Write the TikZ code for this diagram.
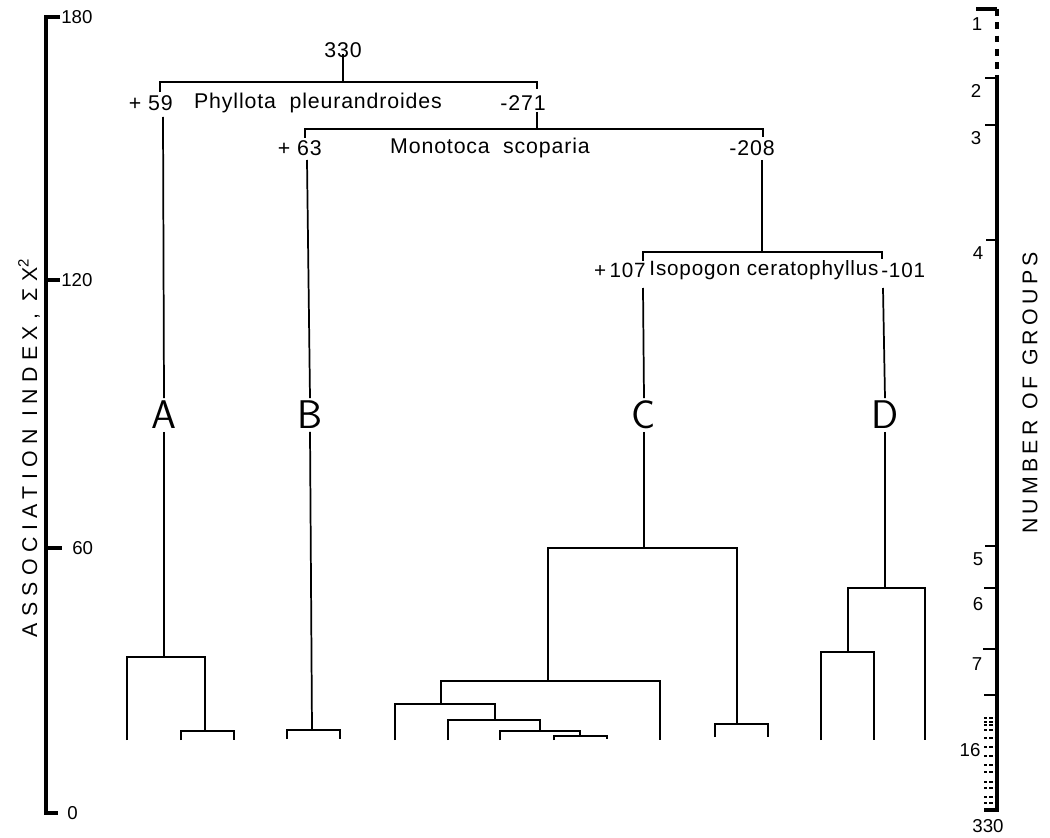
\documentclass[tikz,border=0pt]{standalone}
\usepackage{fontspec}
\setmainfont{Liberation Sans}
\newfontfamily\handfont[LetterSpace=4]{Liberation Sans}
\newfontfamily\ytitlefont[LetterSpace=30]{Liberation Sans}
\newfontfamily\rtitlefont[LetterSpace=20]{Liberation Sans}
\begin{document}
\begin{tikzpicture}[x=0.75pt,y=-0.75pt,
  axis/.style={line width=3.2pt},
  hbar/.style={line width=2.1pt},
  stem/.style={line width=1.3pt},
  lab/.style={font=\handfont\fontsize{16}{16}\selectfont, inner sep=0pt},
  labs/.style={font=\handfont\fontsize{15.5}{15.5}\selectfont, inner sep=0pt},
  num/.style={font=\fontsize{14}{14}\selectfont, inner sep=0pt},
  letter/.style={font=\sffamily\fontsize{30}{30}\selectfont, inner sep=2pt},
  title/.style={inner sep=0pt, rotate=90}]
\useasboundingbox (0,0) rectangle (1050,838);
% ---------- left axis ----------
\draw[axis] (60,17) -- (46,17) -- (46,813) -- (58,813);
\draw[axis] (46,280) -- (60,280);
\draw[axis] (46,548) -- (62,548);
\node[num,anchor=west] (l180) at (61,17) {180};
\node[num,anchor=west] (l120) at (61,280) {120};
\node[num,anchor=west] (l60) at (72,548) {60};
\node[num,anchor=west] (l0) at (67,813) {0};
\node[title,font=\ytitlefont\fontsize{16}{16}\selectfont] (ytitle) at (29,448) {ASSOCIATION INDEX, ΣX\textsuperscript{2}};
% ---------- right axis ----------
\draw[axis, dash pattern=on 5pt off 5pt] (997,9) -- (997,75);
\draw[axis] (976,9) -- (997,9);
\draw[axis] (997,75) -- (997,810) -- (984,810);
\foreach \y/\xa in {78/985,125/985,240/986,546/985,588/984,649/983,695/984}
  \draw[line width=2pt] (\xa,\y) -- (997,\y);
\foreach \y in {718,722,725,730,738,747,756,765,772,782,788,797,803}
  \draw[line width=1.2pt, dash pattern=on 2.5pt off 1.5pt] (984,\y) -- (996,\y);
\node[num] (g1) at (977,24) {1};
\node[num] (g2) at (976,91) {2};
\node[num] (g3) at (976,138) {3};
\node[num] (g4) at (978,253) {4};
\node[num] (g5) at (978,559) {5};
\node[num] (g6) at (978,604) {6};
\node[num] (g7) at (977,664) {7};
\node[num] (g16) at (970,750) {16};
\node[num] (g330) at (988,826) {330};
\node[title,font=\rtitlefont\fontsize{16}{16}\selectfont] (rtitle) at (1030,393) {NUMBER OF GROUPS};
% ---------- labels ----------
\node[lab] (n330) at (343,50) {330};
\node[lab,anchor=east] (p59) at (173,103) {+ 59};
\node[lab] (phy) at (318,103) {Phyllota\ \ pleurandroides};
\node[lab] (m271) at (523,103) {-271};
\node[lab,anchor=east] (p63) at (322,148) {+ 63};
\node[lab] (mono) at (490,148) {Monotoca\hspace{10pt}scoparia};
\node[lab] (m208) at (752,148) {-208};
\node[labs,anchor=east] (p107) at (646,270) {+\,107};
\node[labs] (iso) at (764,270) {Isopogon ceratophyllus};
\node[labs,anchor=west] (m101) at (881,270) {-101};
\node[letter] (A) at (164,415) {A};
\node[letter] (B) at (310,415) {B};
\node[letter] (C) at (644,415) {C};
\node[letter] (D) at (885,415) {D};
% ---------- tree top ----------
\draw[stem] (n330.south) ++(0,-4) -- (343,82);
\draw[hbar] (160,92) -- (160,82) -- (537,82) -- (537,89);
\draw[stem] (537,112) -- (537,129);
\draw[hbar] (305,138) -- (305,129) -- (763,129) -- (763,137);
\draw[stem] (762,160) -- (762,252);
\draw[hbar] (643,261) -- (643,252) -- (882,252) -- (882,259);
% ---------- group A ----------
\draw[stem] (163,117) -- (A.north);
\draw[stem] (A.south) -- (164,657);
\draw[hbar] (127,740) -- (127,657) -- (205,657) -- (205,731);
\draw[hbar] (181,740) -- (181,731) -- (234,731) -- (234,740);
% ---------- group B ----------
\draw[stem] (307,160) -- (B.north);
\draw[stem] (B.south) -- (312,730);
\draw[hbar] (287,739) -- (287,730) -- (340,730) -- (340,739);
% ---------- group C ----------
\draw[stem] (643,288) -- (C.north);
\draw[stem] (C.south) -- (644,548);
\draw[hbar] (548,681) -- (548,548) -- (737,548) -- (737,724);
\draw[hbar] (715,737) -- (715,724) -- (768,724) -- (768,737);
\draw[hbar] (441,704) -- (441,681) -- (660,681) -- (660,740);
\draw[hbar] (395,740) -- (395,704) -- (495,704) -- (495,720);
\draw[hbar] (448,740) -- (448,720) -- (540,720) -- (540,731);
\draw[hbar] (500,740) -- (500,731) -- (580,731) -- (580,736);
\draw[hbar] (554,740) -- (554,736) -- (607,736) -- (607,739);
% ---------- group D ----------
\draw[stem] (883,288) -- (D.north);
\draw[stem] (D.south) -- (885,588);
\draw[hbar] (848,652) -- (848,588) -- (925,588) -- (925,740);
\draw[hbar] (821,740) -- (821,652) -- (874,652) -- (874,740);
\end{tikzpicture}
\end{document}
